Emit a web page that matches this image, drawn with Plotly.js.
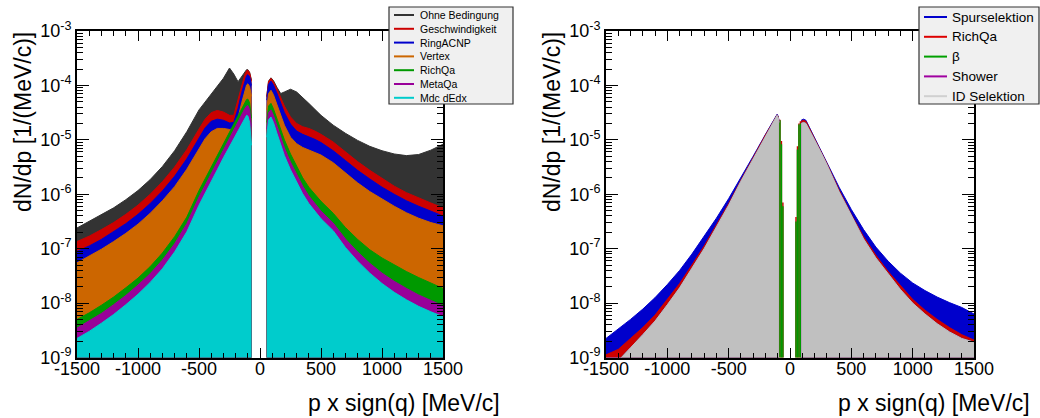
<!DOCTYPE html>
<html><head><meta charset="utf-8">
<script src="https://cdn.plot.ly/plotly-3.0.1.min.js"></script>
<style>html,body{margin:0;padding:0;background:#fff}#chart{width:1040px;height:418px}</style>
</head><body><div id="chart"></div>
<script>
// ---------------- DATA ----------------
const xTickVals = [-1500, -1000, -500, 0, 500, 1000, 1500];
const xTickText = ['-1500', '-1000', '-500', '0', '500', '1000', '1500'];
const yTickVals = [1e-9, 1e-8, 1e-7, 1e-6, 1e-5, 1e-4, 1e-3];
const yTickText = ['10<sup>-9</sup>', '10<sup>-8</sup>', '10<sup>-7</sup>', '10<sup>-6</sup>', '10<sup>-5</sup>', '10<sup>-4</sup>', '10<sup>-3</sup>'];

// Left panel: momentum grid (MeV/c), negative and positive side
const pNeg = [-1500,-1400,-1300,-1200,-1100,-1000,-900,-800,-700,-600,-500,-450,-400,-350,-300,-250,-215,-180,-150,-125,-110,-100,-85,-70];
const pPos = [55,70,90,110,140,170,200,250,300,350,400,450,500,600,700,800,900,1000,1100,1200,1300,1400,1500];

const ohneNeg   = [2.40e-7,3.16e-7,4.17e-7,5.62e-7,7.94e-7,1.17e-6,1.86e-6,3.24e-6,6.31e-6,1.41e-5,3.55e-5,5.01e-5,6.92e-5,9.55e-5,1.35e-4,2.09e-4,1.62e-4,1.17e-4,1.45e-4,1.74e-4,1.95e-4,1.95e-4,1.74e-4,1.26e-4];
const ohnePos   = [6.31e-5,1.20e-4,1.38e-4,1.23e-4,9.12e-5,7.08e-5,7.59e-5,8.51e-5,7.59e-5,6.03e-5,4.68e-5,3.63e-5,2.82e-5,1.86e-5,1.32e-5,9.77e-6,7.59e-6,6.31e-6,5.50e-6,5.13e-6,5.37e-6,6.46e-6,8.32e-6];
const geschNeg  = [1.35e-7,1.70e-7,2.24e-7,3.02e-7,4.27e-7,6.31e-7,1.00e-6,1.70e-6,3.16e-6,6.61e-6,1.58e-5,2.40e-5,3.16e-5,3.47e-5,3.24e-5,2.82e-5,2.82e-5,5.62e-5,1.00e-4,1.58e-4,1.86e-4,1.91e-4,1.70e-4,1.20e-4];
const geschPos  = [6.03e-5,1.17e-4,1.35e-4,1.17e-4,8.51e-5,6.03e-5,4.17e-5,2.63e-5,2.00e-5,1.74e-5,1.62e-5,1.45e-5,1.26e-5,9.12e-6,6.03e-6,3.98e-6,2.75e-6,1.95e-6,1.41e-6,1.07e-6,8.51e-7,6.92e-7,5.62e-7];
const ringNeg   = [8.91e-8,1.12e-7,1.48e-7,2.04e-7,2.88e-7,4.27e-7,6.76e-7,1.15e-6,2.14e-6,4.47e-6,1.07e-5,1.66e-5,2.19e-5,2.40e-5,2.29e-5,2.04e-5,2.09e-5,3.80e-5,7.41e-5,1.20e-4,1.51e-4,1.58e-4,1.45e-4,1.00e-4];
const ringPos   = [5.37e-5,1.05e-4,1.20e-4,1.02e-4,7.08e-5,4.79e-5,3.16e-5,1.95e-5,1.45e-5,1.26e-5,1.15e-5,1.02e-5,8.91e-6,6.31e-6,4.17e-6,2.75e-6,1.91e-6,1.35e-6,1.00e-6,7.59e-7,6.03e-7,4.90e-7,3.98e-7];
const vertexNeg = [5.50e-8,7.24e-8,9.77e-8,1.35e-7,1.91e-7,2.82e-7,4.47e-7,7.59e-7,1.38e-6,2.88e-6,6.92e-6,1.05e-5,1.41e-5,1.62e-5,1.62e-5,1.55e-5,1.58e-5,2.51e-5,4.79e-5,7.94e-5,1.02e-4,1.07e-4,9.55e-5,6.31e-5];
const vertexPos = [3.55e-5,7.08e-5,8.13e-5,6.76e-5,4.37e-5,2.82e-5,1.86e-5,1.12e-5,8.51e-6,7.24e-6,6.46e-6,5.89e-6,5.25e-6,3.80e-6,2.45e-6,1.62e-6,1.12e-6,8.13e-7,6.03e-7,4.57e-7,3.63e-7,3.02e-7,2.63e-7];
const richNeg   = [5.01e-9,6.61e-9,9.12e-9,1.29e-8,1.91e-8,2.88e-8,4.68e-8,8.32e-8,1.66e-7,3.80e-7,1.17e-6,1.91e-6,3.16e-6,5.25e-6,8.71e-6,1.41e-5,2.00e-5,2.75e-5,3.80e-5,4.79e-5,5.50e-5,5.62e-5,4.79e-5,2.51e-5];
const richPos   = [2.09e-5,4.17e-5,4.68e-5,3.72e-5,2.40e-5,1.51e-5,1.00e-5,5.50e-6,3.24e-6,2.00e-6,1.35e-6,9.77e-7,7.41e-7,4.47e-7,2.45e-7,1.48e-7,9.55e-8,6.76e-8,5.01e-8,3.80e-8,2.95e-8,2.34e-8,1.86e-8];
const metaNeg   = [3.47e-9,4.68e-9,6.46e-9,9.33e-9,1.38e-8,2.14e-8,3.47e-8,6.17e-8,1.23e-7,2.88e-7,8.91e-7,1.45e-6,2.40e-6,3.98e-6,6.61e-6,1.07e-5,1.51e-5,2.09e-5,2.88e-5,3.72e-5,4.17e-5,4.27e-5,3.55e-5,1.78e-5];
const metaPos   = [1.58e-5,3.16e-5,3.55e-5,2.82e-5,1.78e-5,1.10e-5,7.08e-6,3.89e-6,2.29e-6,1.41e-6,9.33e-7,6.61e-7,4.90e-7,2.95e-7,1.51e-7,8.71e-8,5.37e-8,3.55e-8,2.51e-8,1.86e-8,1.41e-8,1.12e-8,8.91e-9];
const mdcNeg    = [2.24e-9,3.02e-9,4.27e-9,6.17e-9,9.33e-9,1.45e-8,2.40e-8,4.27e-8,8.71e-8,2.04e-7,6.31e-7,1.02e-6,1.70e-6,2.82e-6,4.68e-6,7.59e-6,1.07e-5,1.48e-5,2.04e-5,2.57e-5,2.82e-5,2.75e-5,2.09e-5,7.94e-6];
const mdcPos    = [1.12e-5,2.34e-5,2.63e-5,2.09e-5,1.29e-5,7.94e-6,5.13e-6,2.82e-6,1.66e-6,1.02e-6,6.76e-7,4.79e-7,3.55e-7,2.14e-7,1.05e-7,5.89e-8,3.55e-8,2.29e-8,1.58e-8,1.15e-8,8.71e-9,6.92e-9,5.62e-9];

// Right panel
const qNeg = [-1500,-1400,-1300,-1200,-1100,-1000,-900,-800,-700,-600,-500,-400,-300,-200,-150,-120,-105,-95,-90];
const qPos = [91,110,130,150,200,250,300,400,500,600,700,800,900,1000,1100,1200,1300,1400,1500];
const spurNeg   = [2.24e-9,3.31e-9,5.01e-9,7.76e-9,1.26e-8,2.19e-8,3.98e-8,7.94e-8,1.66e-7,3.63e-7,8.32e-7,2.00e-6,5.01e-6,1.26e-5,1.95e-5,2.69e-5,2.95e-5,2.69e-5,2.24e-5];
const spurPos   = [2.29e-5,2.40e-5,2.29e-5,1.86e-5,1.10e-5,6.61e-6,3.98e-6,1.35e-6,5.25e-7,2.24e-7,1.07e-7,5.89e-8,3.55e-8,2.34e-8,1.70e-8,1.29e-8,1.02e-8,8.32e-9,6.31e-9];
const richQaNeg = [1.12e-9,1.41e-9,2.24e-9,3.55e-9,6.03e-9,1.15e-8,2.29e-8,5.01e-8,1.12e-7,2.75e-7,6.76e-7,1.82e-6,4.79e-6,1.23e-5,1.91e-5,2.63e-5,2.88e-5,2.63e-5,2.19e-5];
const richQaPos = [2.19e-5,2.29e-5,2.19e-5,1.78e-5,1.05e-5,6.31e-6,3.72e-6,1.20e-6,4.27e-7,1.66e-7,7.59e-8,3.80e-8,2.09e-8,1.17e-8,7.41e-9,5.01e-9,3.55e-9,2.63e-9,2.09e-9];
const betaNeg   = [5.01e-10,8.91e-10,1.51e-9,2.63e-9,4.68e-9,9.33e-9,1.91e-8,4.37e-8,1.00e-7,2.51e-7,6.31e-7,1.74e-6,4.57e-6,1.17e-5,1.82e-5,2.51e-5,2.82e-5,2.51e-5,2.09e-5];
const betaPos   = [2.00e-5,2.09e-5,2.00e-5,1.66e-5,1.00e-5,6.03e-6,3.55e-6,1.12e-6,3.98e-7,1.51e-7,6.76e-8,3.39e-8,1.78e-8,1.00e-8,6.31e-9,4.17e-9,2.95e-9,2.24e-9,1.91e-9];
const showerNeg = [5.01e-10,8.91e-10,1.51e-9,2.63e-9,4.68e-9,9.33e-9,1.91e-8,4.37e-8,1.00e-7,2.51e-7,6.31e-7,1.74e-6,4.57e-6,1.17e-5,1.82e-5,2.51e-5,2.82e-5,2.51e-5,2.09e-5];
const showerPos = [2.00e-5,2.09e-5,2.00e-5,1.66e-5,1.00e-5,6.03e-6,3.55e-6,1.12e-6,3.98e-7,1.51e-7,6.76e-8,3.39e-8,1.78e-8,1.00e-8,6.31e-9,4.17e-9,2.95e-9,2.24e-9,1.91e-9];
const idNeg     = [5.01e-10,8.91e-10,1.51e-9,2.63e-9,4.68e-9,9.33e-9,1.91e-8,4.37e-8,1.00e-7,2.51e-7,6.31e-7,1.74e-6,4.57e-6,1.17e-5,1.82e-5,2.51e-5,2.82e-5,2.51e-5,2.09e-5];
const idPos     = [2.00e-5,2.09e-5,2.00e-5,1.66e-5,1.00e-5,6.03e-6,3.55e-6,1.12e-6,3.98e-7,1.51e-7,6.76e-8,3.39e-8,1.78e-8,1.00e-8,6.31e-9,4.17e-9,2.95e-9,2.24e-9,1.91e-9];
// bins next to the gap (no ID Selektion entries there)
const edgeX      = [-82, -70, -58, 49, 61, 73, 85];
const richQaEdge = [2.34e-5, 9.55e-6, 7.08e-7, 3.80e-7, 7.59e-6, 2.00e-5, 2.19e-5];
const betaEdge   = [2.29e-5, 8.32e-6, 6.03e-7, 3.16e-7, 6.61e-6, 1.91e-5, 2.00e-5];

const leftNames  = ['Ohne Bedingung', 'Geschwindigkeit', 'RingACNP', 'Vertex', 'RichQa', 'MetaQa', 'Mdc dEdx'];
const rightNames = ['Spurselektion', 'RichQa', '\u03b2', 'Shower', 'ID Selektion'];

// ---------------- STYLE ----------------
const FONT = '"Liberation Sans", Arial, Helvetica, sans-serif';
const leftColors  = ['#333333', '#cc0000', '#0000cc', '#cc6600', '#009900', '#990099', '#00cccc'];
const rightColors = ['#0000cc', '#cc0000', '#009900', '#990099', '#c0c0c0'];
const W = 1040, H = 418;
const px = v => v / W, py = v => 1 - v / H;

const leftSeries = [
  [ohneNeg, ohnePos], [geschNeg, geschPos], [ringNeg, ringPos], [vertexNeg, vertexPos],
  [richNeg, richPos], [metaNeg, metaPos], [mdcNeg, mdcPos]
];
const rightSeries = [
  [spurNeg, spurPos], [richQaNeg, richQaPos], [betaNeg, betaPos], [showerNeg, showerPos], [idNeg, idPos]
];

const traces = [];
function area(x, y, color, xa, ya, name) {
  traces.push({x: x, y: y, type: 'scatter', mode: 'lines', name: name,
    fill: 'tozeroy', fillcolor: color, line: {color: color, width: 1},
    xaxis: xa, yaxis: ya, showlegend: false, hoverinfo: 'skip'});
}
leftSeries.forEach((s, i) => {
  area(pNeg, s[0], leftColors[i], 'x', 'y', leftNames[i]);
  area(pPos, s[1], leftColors[i], 'x', 'y', leftNames[i]);
});
rightSeries.forEach((s, i) => {
  area(qNeg, s[0], rightColors[i], 'x2', 'y2', rightNames[i]);
  area(qPos, s[1], rightColors[i], 'x2', 'y2', rightNames[i]);
});
traces.push({x: edgeX, y: richQaEdge, type: 'bar', width: 12, marker: {color: rightColors[1], line: {width: 0}},
  xaxis: 'x2', yaxis: 'y2', showlegend: false, hoverinfo: 'skip', name: rightNames[1]});
traces.push({x: edgeX, y: betaEdge, type: 'bar', width: 12, marker: {color: rightColors[2], line: {width: 0}},
  xaxis: 'x2', yaxis: 'y2', showlegend: false, hoverinfo: 'skip', name: rightNames[2]});

// axis tick helpers
const xMinor = [];
for (let v = -1500; v <= 1500; v += 100) xMinor.push(v);
const yMinor = [];
for (let e = -9; e <= -4; e++) for (let k = 2; k <= 9; k++) yMinor.push(k * Math.pow(10, e));

function xAxis(domain, anchor) {
  return {domain: domain, anchor: anchor, range: [-1500, 1500], showgrid: false, zeroline: false,
    tickmode: 'array', tickvals: xTickVals, ticktext: xTickText,
    ticks: 'inside', ticklen: 10, tickwidth: 1, tickcolor: '#000', ticklabelstandoff: -6,
    minor: {tickmode: 'array', tickvals: xMinor, ticks: 'inside', ticklen: 5, tickwidth: 1, tickcolor: '#000'},
    showline: true, linecolor: '#000', linewidth: 2, mirror: 'allticks',
    tickfont: {family: FONT, size: 18, color: '#000'}};
}
function yAxis(domain, anchor) {
  return {domain: domain, anchor: anchor, type: 'log', range: [-9, -3], showgrid: false, zeroline: false,
    tickmode: 'array', tickvals: yTickVals, ticktext: yTickText,
    ticks: 'inside', ticklen: 12, tickwidth: 1, tickcolor: '#000',
    minor: {tickmode: 'array', tickvals: yMinor, ticks: 'inside', ticklen: 6, tickwidth: 1, tickcolor: '#000'},
    showline: true, linecolor: '#000', linewidth: 2, mirror: 'allticks',
    tickfont: {family: FONT, size: 18, color: '#000'}};
}
const yDom = [1 - 357.5 / H, 1 - 31 / H];

const shapes = [];
const annotations = [];
function legendBox(x0, x1, y0, y1, names, colors, lineX0, lineX1, textX, row0, rowStep, fsize) {
  shapes.push({type: 'rect', xref: 'paper', yref: 'paper', x0: px(x0), x1: px(x1), y0: py(y1), y1: py(y0),
    fillcolor: '#f0f0f0', line: {color: '#333', width: 1.2}, layer: 'above'});
  names.forEach((n, i) => {
    const yy = row0 + i * rowStep;
    shapes.push({type: 'line', xref: 'paper', yref: 'paper', x0: px(lineX0), x1: px(lineX1), y0: py(yy), y1: py(yy),
      line: {color: colors[i], width: 2}, layer: 'above'});
    annotations.push({xref: 'paper', yref: 'paper', x: px(textX), y: py(yy), xanchor: 'left', yanchor: 'middle',
      text: n, showarrow: false, font: {family: FONT, size: fsize, color: '#000'}});
  });
}
legendBox(389, 513, 7, 104, leftNames, leftColors, 394, 414, 418, 15, 13.8, 10.5);
legendBox(919, 1039, 7, 104, rightNames, ['#0000cc', '#dd0000', '#00a000', '#a000a0', '#d0d0d0'], 924, 947, 950, 17, 19.8, 13.5);

// axis titles
[[23, 30, 502], [552, 30, 1032]].forEach(a => {
  annotations.push({xref: 'paper', yref: 'paper', x: px(a[0]), y: py(a[1]), xanchor: 'center', yanchor: 'top',
    text: 'dN/dp [1/(MeV/c)]', textangle: -90, showarrow: false, font: {family: FONT, size: 23, color: '#000'}});
  annotations.push({xref: 'paper', yref: 'paper', x: px(a[2]), y: py(403), xanchor: 'right', yanchor: 'middle',
    text: 'p x sign(q) [MeV/c]', showarrow: false, font: {family: FONT, size: 23, color: '#000'}});
});

const layout = {
  width: W, height: H, margin: {l: 0, r: 0, t: 0, b: 0},
  paper_bgcolor: '#fff', plot_bgcolor: '#fff', showlegend: false, barmode: 'overlay',
  xaxis: xAxis([77 / W, 443 / W], 'y'),
  yaxis: yAxis(yDom, 'x'),
  xaxis2: xAxis([606 / W, 974 / W], 'y2'),
  yaxis2: yAxis(yDom, 'x2'),
  shapes: shapes, annotations: annotations
};
Plotly.newPlot('chart', traces, layout, {displayModeBar: false, staticPlot: true});
</script>
</body></html>
